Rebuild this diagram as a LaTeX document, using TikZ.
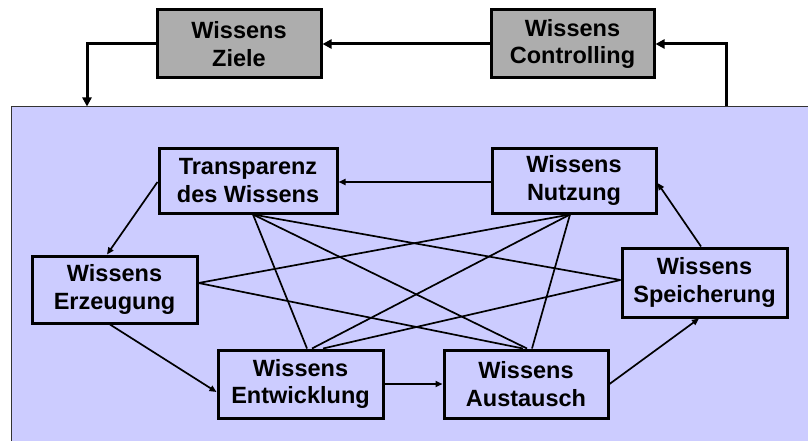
\documentclass[tikz,border=0pt]{standalone}
\usepackage{fontspec}
\setmainfont{Liberation Sans}
\usetikzlibrary{arrows.meta}
\definecolor{lav}{RGB}{204,204,255}
\definecolor{grayfill}{RGB}{173,173,173}
\tikzset{
  box/.style={draw=black, line width=3pt, fill=lav, align=center, inner sep=0pt,
    font=\fontsize{23.5}{27.5}\selectfont\bfseries},
  topbox/.style={box, fill=grayfill, minimum width=164pt, minimum height=68pt},
  bigbox/.style={draw=black!80, line width=1pt, fill=lav, inner sep=0pt},
  link/.style={line width=1.7pt},
  arr/.style={link, -{Triangle[length=7pt,width=6pt]}},
  loop/.style={line width=3pt, -{Triangle[length=9pt,width=9pt]}}
}
\begin{document}
\begin{tikzpicture}[x=1pt,y=-1pt]
\useasboundingbox (0,0) rectangle (808,441);
\fill[white] (0,0) rectangle (808,441);
\node[bigbox, minimum width=801pt, minimum height=338pt] (P) at (411.5,276) {};
\node[topbox] (Z) at (239,44) {Wissens\\Ziele};
\node[topbox, minimum width=163pt] (C) at (572.5,44) {Wissens\\Controlling};
\node[box, minimum width=178pt, minimum height=65pt] (T) at (248,180.5) {Transparenz\\des Wissens};
\node[box, minimum width=164pt, minimum height=65pt] (N) at (574,180.5) {Wissens\\Nutzung};
\node[box, minimum width=165pt, minimum height=67pt] (E) at (114.5,289.5) {Wissens\\Erzeugung};
\node[box, minimum width=165pt, minimum height=69pt] (S) at (704.5,282.5) {Wissens\\Speicherung};
\node[box, minimum width=165pt, minimum height=68pt] (W) at (300.5,384) {Wissens\\Entwicklung};
\node[box, minimum width=164pt, minimum height=68pt] (A) at (526,384) {Wissens\\Austausch};
% top loop
\draw[loop] (C.west) -- (Z.east);
\draw[loop] (Z.west) -| ([xshift=-324.5pt]P.north);
\draw[loop] ([xshift=314.5pt]P.north) |- (C.east);
% crossing lines
\draw[link] ([xshift=5pt]T.south) -- ([xshift=6.5pt]W.north);
\draw[link] ([xshift=5pt]T.south) -- ([xshift=1pt]A.north);
\draw[link] ([xshift=5pt]T.south) -- ([yshift=2.5pt]S.west);
\draw[link] ([xshift=-4pt]N.south) -- ([yshift=6.5pt]E.east);
\draw[link] ([xshift=-4pt]N.south) -- ([xshift=11.5pt]W.north);
\draw[link] ([xshift=-4pt]N.south) -- ([xshift=6pt]A.north);
\draw[link] ([yshift=6.5pt]E.east) -- ([xshift=-3pt]A.north);
\draw[link] ([yshift=2.5pt]S.west) -- ([xshift=22.5pt]W.north);
% cycle arrows
\draw[arr] ([yshift=-1.5pt]N.west) -- ([yshift=-1.5pt]T.east);
\draw[arr] ([yshift=-1.5pt]T.west) -- ([xshift=-7.5pt]E.north);
\draw[arr] ([xshift=-4.5pt]E.south) -- ([yshift=-8pt]W.west);
\draw[arr] (W.east) -- (A.west);
\draw[arr] (A.east) -- ([xshift=-5.5pt]S.south);
\draw[arr] ([xshift=-3.5pt]S.north) -- ([yshift=-2.5pt]N.east);
\end{tikzpicture}
\end{document}
